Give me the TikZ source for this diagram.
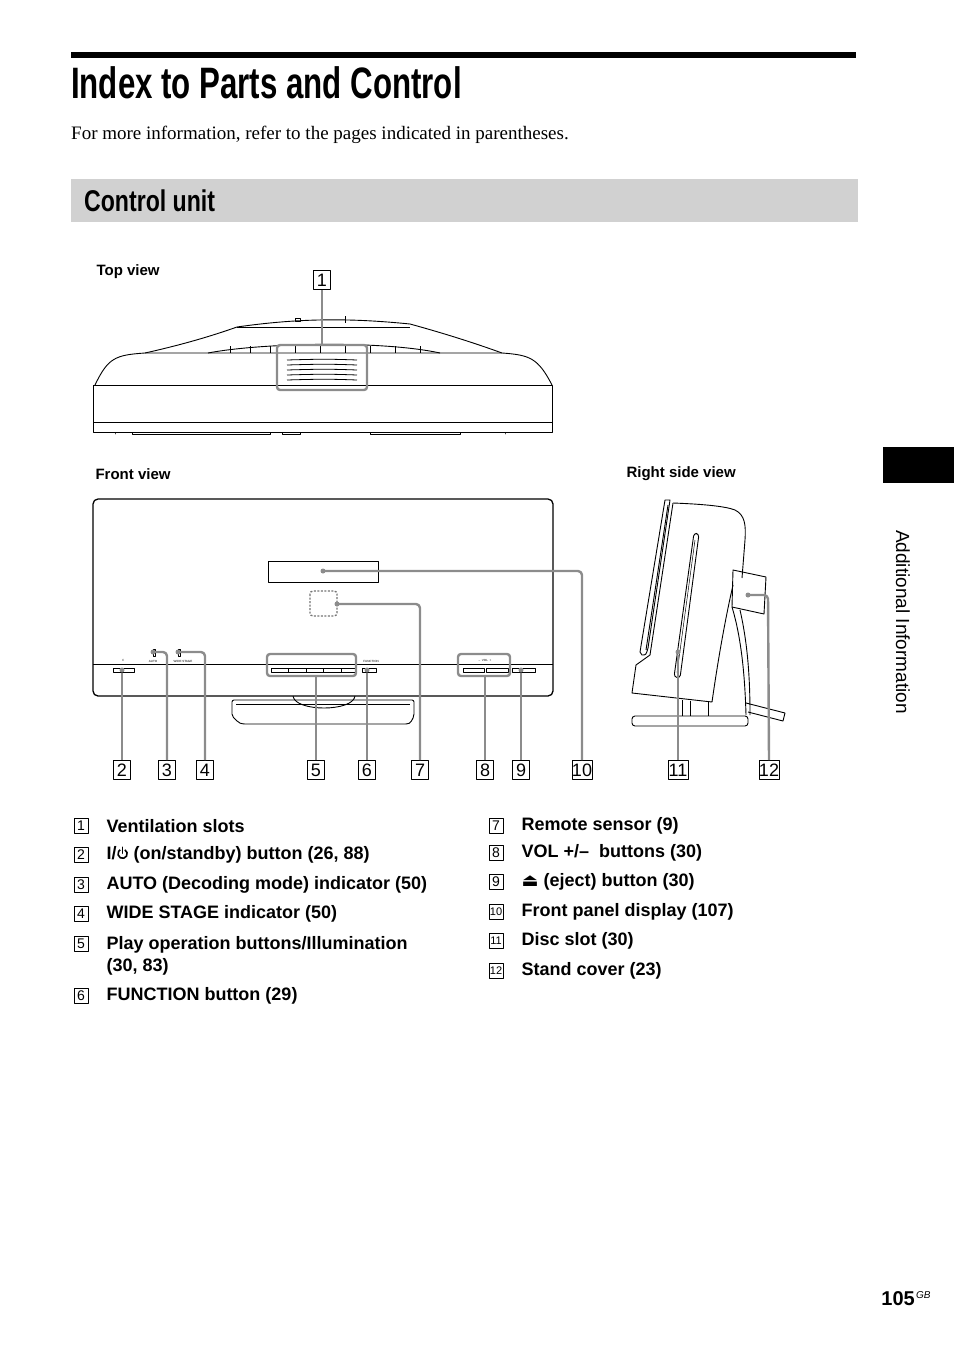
\documentclass[tikz,border=0pt]{standalone}
\usepackage{fontspec}
\setmainfont{Liberation Serif}
\setsansfont{Liberation Sans}
\newfontfamily\djv{DejaVu Sans}
\newcommand{\pwrsym}{\tikz[baseline=0pt,x=1pt,y=1pt]{\draw[line width=1.6pt,line cap=round] (5.5,6.5) -- (5.5,12.5); \draw[line width=1.6pt] (7.8,10) arc[start angle=60,end angle=-240,radius=4.6];\path (0,0) rectangle (11,13);}}
\begin{document}
\begin{tikzpicture}[x=1pt,y=-1pt,line join=round,
  dev/.style={draw=black,line width=0.9pt},
  call/.style={draw=black!45,line width=2.4pt},
  hl/.style={draw=black!45,line width=2.4pt,rounded corners=3pt},
  dotc/.style={circle,fill=black!45,inner sep=0pt,minimum size=5pt},
  num/.style={draw=black,line width=0.8pt,minimum width=17pt,minimum height=19pt,inner sep=0pt,font=\sffamily\fontsize{18}{18}\selectfont},
  lnum/.style={draw=black,line width=0.6pt,minimum width=14pt,minimum height=15pt,inner sep=0pt,font=\sffamily\fontsize{14}{14}\selectfont},
  item/.style={anchor=west,font=\sffamily\bfseries\fontsize{18}{22}\selectfont,align=left},
  view/.style={anchor=west,font=\sffamily\bfseries\fontsize{15}{16}\selectfont},
  btn/.style={draw=black,line width=0.7pt}]
\useasboundingbox (0,0) rectangle (954,1352);
% title
\fill (71,52) rectangle (856,58);
\node[anchor=west,inner sep=0pt] (title) at (71,83) {\sffamily\bfseries\fontsize{44}{44}\selectfont\scalebox{0.71}[1]{Index to Parts and Control}};
\node[anchor=west,inner sep=0pt] (intro) at (71,135) {\fontsize{19}{22}\selectfont For more information, refer to the pages indicated in parentheses.};
\fill[black!18] (71,179) rectangle (858,222);
\node[anchor=west,inner sep=0pt] (sect) at (84,201) {\sffamily\bfseries\fontsize{30}{30}\selectfont\scalebox{0.77}[1]{Control unit}};
% sidebar
\fill (883,447) rectangle (954,483);
\node[rotate=-90,inner sep=0pt] (side) at (903,622) {\sffamily\fontsize{19}{19}\selectfont Additional Information};
\node[anchor=south east,inner sep=0pt] (pg) at (915,1306) {\sffamily\bfseries\fontsize{20}{20}\selectfont 105};
\node[anchor=south west,inner sep=0pt] (gb) at (916,1299) {\sffamily\itshape\fontsize{10}{10}\selectfont GB};
% view labels
\node[view] (tv) at (93,272) {Top view};
\node[view] (fv) at (92,474) {Front view};
\node[view] (rv) at (623,474) {Right side view};
% ===== top view
\draw[dev] (93,385) rectangle (552,432);
\draw[dev] (93,422) -- (552,422);
\foreach \a/\b in {115,132/270,282/300,370/460,505} \draw[dev] (\a,432) -- (\a,434) -- (\b,434) -- (\b,432);
\draw[dev] (95,385) .. controls (108,358) and (115,355) .. (145,353) -- (502,353) .. controls (530,355) and (538,358) .. (552,385);
\draw[dev] (145,353) .. controls (190,343) and (220,333) .. (237,327) .. controls (300,318) and (350,318) .. (410,324) .. controls (450,335) and (480,345) .. (502,353);
\draw[dev] (237,327) -- (410,327);
\draw[dev] (208,353) .. controls (260,343) and (380,340) .. (440,353);
\foreach \x in {230,250,270,295,320,345,370,395,420} \draw[dev,line width=0.5pt] (\x,346) -- (\x,353);
\draw[dev,line width=0.6pt] (295,318) rectangle (300,321);
\draw[dev,line width=0.6pt] (345,316) -- (345,323);
\foreach \y in {360,365,370,375,380} \draw[line width=0.8pt] (287,\y) .. controls (320,\y-1) and (330,\y-1) .. (357,\y);
\draw[hl] (277,345) rectangle (367,390);
\node[num] (n1) at (322,280) {1};
\draw[call] (n1.south) -- (322,345);
% ===== front view
\draw[dev,rounded corners=5pt,line width=1.3pt] (93,499) rectangle (553,696);
\draw[dev] (93,664) -- (553,664);
\draw[dev] (268,561) rectangle (378,582);
\draw[dev,rounded corners=2pt] (232,700) -- (232,716) .. controls (240,724) .. (250,724) -- (400,724) .. controls (410,724) .. (414,716) -- (414,700) -- cycle;
\draw[dev] (236,704) -- (410,704);
\draw[dev] (293,696) .. controls (295,712) and (353,712) .. (355,696);
\draw[dev,dashed,dash pattern=on 2pt off 1.5pt,line width=1.3pt,rounded corners=3pt,draw=black!55] (310,591) rectangle (337,616);
% buttons
\draw[btn] (113,668) rectangle (134,672); \draw[btn] (123,668)--(123,672);
\draw[btn] (271,668) rectangle (355,672);
\foreach \x in {288,306,323,341} \draw[btn] (\x,668)--(\x,672);
\draw[btn] (362,668) rectangle (376,672);
\draw[btn] (463,668) rectangle (484,672); \draw[btn] (486,668) rectangle (508,672);
\draw[btn] (512,668) rectangle (535,672);
\draw[btn,line width=0.5pt] (153,649) rectangle (155,656);
\draw[btn,line width=0.5pt] (178,649) rectangle (180,656);
\node[font=\sffamily\fontsize{3}{3}\selectfont] at (123,660) {I/};
\node[font=\sffamily\fontsize{3}{3}\selectfont] at (153,661) {AUTO};
\node[font=\sffamily\fontsize{3}{3}\selectfont] at (183,661) {WIDE STAGE};
\node[font=\sffamily\fontsize{3}{3}\selectfont] at (371,661) {FUNCTION};
\node[font=\sffamily\fontsize{3}{3}\selectfont] at (485,660) {–\ \ VOL\ \ +};
% highlights
\draw[hl] (267,654) rectangle (356,676);
\draw[hl] (458,654) rectangle (510,676);
% bottom labels
\node[num] (n2) at (122,770) {2};
\node[num] (n3) at (167,770) {3};
\node[num] (n4) at (205,770) {4};
\node[num] (n5) at (316,770) {5};
\node[num] (n6) at (367,770) {6};
\node[num] (n7) at (420,770) {7};
\node[num] (n8) at (485,770) {8};
\node[num] (n9) at (521,770) {9};
\node[num,minimum width=20pt] (n10) at (582,770) {10};
\node[num,minimum width=20pt] (n11) at (678,770) {11};
\node[num,minimum width=20pt] (n12) at (769,770) {12};
\node[dotc] (d2) at (122,670) {};
\node[dotc] (d3) at (153,652) {};
\node[dotc] (d4) at (178,652) {};
\node[dotc] (d6) at (367,670) {};
\node[dotc] (d7) at (337,604) {};
\node[dotc] (d9) at (521,670) {};
\node[dotc] (d10) at (323,571) {};
\draw[call] (d2) -- (n2.north);
\draw[call,rounded corners=4pt] (d3.center) -- (167,652) -- (n3.north);
\draw[call,rounded corners=4pt] (d4.center) -- (205,652) -- (n4.north);
\draw[call] (316,676) -- (n5.north);
\draw[call] (d6) -- (n6.north);
\draw[call,rounded corners=4pt] (d7.center) -- (420,604) -- (n7.north);
\draw[call] (485,676) -- (n8.north);
\draw[call] (d9) -- (n9.north);
\draw[call,rounded corners=4pt] (d10.center) -- (582,571) -- (n10.north);
% ===== side view
\draw[dev] (665,500) -- (670,500) -- (648,648) .. controls (646,655) .. (642,655) -- (640,652) -- cycle;
\draw[dev] (668,505) -- (646,650);
\draw[dev] (673,503) .. controls (700,504) and (725,506) .. (735,510) .. controls (745,515) and (746,525) .. (745,540) -- (742,578);
\draw[dev] (673,503) -- (650,655) -- (636,665) -- (632,693) -- (712,702) .. controls (718,660) and (725,620) .. (733,585);
\draw[dev] (733,570) -- (766,577) -- (764,614) -- (732,607) -- cycle;
\draw[dev] (732,607) .. controls (742,640) and (745,680) .. (746,715);
\draw[dev] (740,610) .. controls (748,645) and (750,680) .. (750,715);
\draw[dev] (682,700) -- (682,716); \draw[dev] (690,701) -- (690,716); \draw[dev] (708,702) -- (708,716);
\draw[dev,rounded corners=3pt] (632,716) -- (748,716) -- (748,726) -- (632,726) -- cycle;
\draw[dev] (746,703) -- (785,713) -- (783,721) -- (748,712);
\draw[dev,rounded corners=3pt] (694,533) -- (699,534) -- (680,678) -- (674,677) -- cycle;
\draw[dev,line width=0.5pt] (695,540) -- (677,673);
\node[dotc] (d11) at (678,652) {};
\node[dotc] (d12) at (748,595) {};
\draw[call] (d11) -- (n11.north);
\draw[call,rounded corners=4pt] (d12.center) -- (768,595) -- (n12.north);
% ===== list
\node[lnum] (l1) at (81,826) {1};  \node[item] at (103,826) {Ventilation slots};
\node[lnum] (l2) at (81,855) {2};  \node[item] at (103,855) {I/\pwrsym\ (on/standby) button (26, 88)};
\node[lnum] (l3) at (81,885) {3};  \node[item] at (103,885) {AUTO (Decoding mode) indicator (50)};
\node[lnum] (l4) at (81,914) {4};  \node[item] at (103,914) {WIDE STAGE indicator (50)};
\node[lnum] (l5) at (81,944) {5};  \node[item,anchor=north west] at (103,933) {Play operation buttons/Illumination\\(30, 83)};
\node[lnum] (l6) at (81,996) {6};  \node[item] at (103,996) {FUNCTION button (29)};
\node[lnum] (l7) at (496,826) {7};  \node[item] at (518,826) {Remote sensor (9)};
\node[lnum] (l8) at (496,853) {8};  \node[item] at (518,853) {VOL +/–\ \ buttons (30)};
\node[lnum] (l9) at (496,882) {9};  \node[item] at (518,882) {{\djv ⏏} (eject) button (30)};
\node[lnum,font=\sffamily\fontsize{11}{11}\selectfont] (l10) at (496,912) {10};  \node[item] at (518,912) {Front panel display (107)};
\node[lnum,font=\sffamily\fontsize{11}{11}\selectfont] (l11) at (496,941) {11};  \node[item] at (518,941) {Disc slot (30)};
\node[lnum,font=\sffamily\fontsize{11}{11}\selectfont] (l12) at (496,971) {12};  \node[item] at (518,971) {Stand cover (23)};
\end{tikzpicture}
\end{document}
